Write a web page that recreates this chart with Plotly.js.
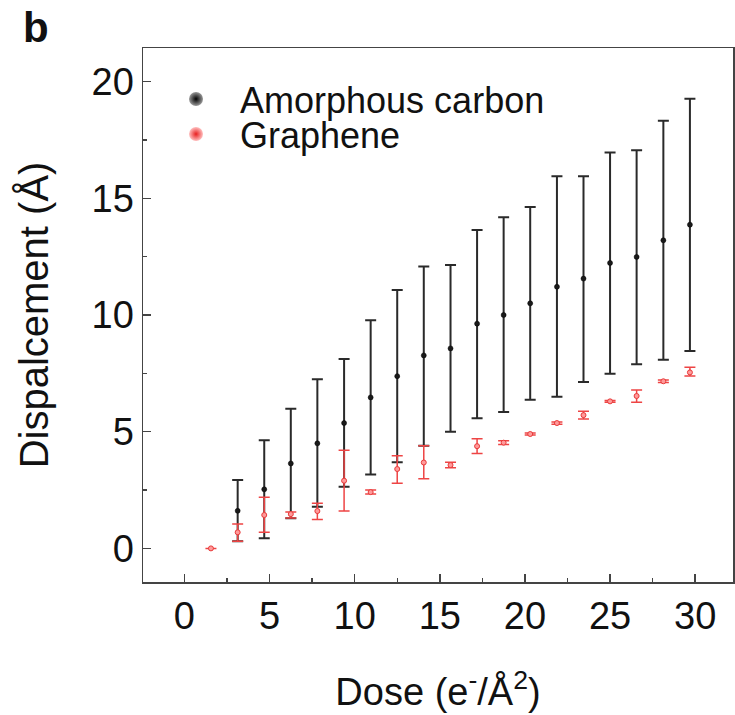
<!DOCTYPE html>
<html>
<head>
<meta charset="utf-8">
<script src="https://cdn.plot.ly/plotly-3.0.1.min.js"></script>
<style>
  html, body { margin: 0; padding: 0; background: #fff; }
  #chart { width: 735px; height: 715px; }
</style>
</head>
<body>
<div id="chart"></div>
<script>
// ---- data ----
// Amorphous carbon (black)
const carbonDose  = [3.13, 4.69, 6.25, 7.81, 9.38, 10.94, 12.5, 14.06, 15.63, 17.19, 18.75, 20.31, 21.88, 23.44, 25.0, 26.56, 28.13, 29.69];
const carbonMean  = [1.61, 2.53, 3.64, 4.50, 5.37, 6.47, 7.38, 8.27, 8.57, 9.63, 10.0, 10.5, 11.21, 11.56, 12.23, 12.49, 13.2, 13.87];
const carbonUpper = [2.93, 4.63, 5.98, 7.25, 8.11, 9.77, 11.07, 12.08, 12.14, 13.64, 14.19, 14.63, 15.94, 15.94, 16.96, 17.06, 18.32, 19.27];
const carbonLower = [0.31, 0.43, 1.29, 1.78, 2.64, 3.17, 3.69, 4.40, 5.0, 5.58, 5.84, 6.37, 6.5, 7.13, 7.48, 7.89, 8.08, 8.46];

// Graphene (red)
const grapheneDose  = [1.56, 3.13, 4.69, 6.25, 7.81, 9.38, 10.94, 12.5, 14.06, 15.63, 17.19, 18.75, 20.31, 21.88, 23.44, 25.0, 26.56, 28.13, 29.69];
const grapheneMean  = [0.0, 0.69, 1.43, 1.47, 1.60, 2.90, 2.41, 3.40, 3.68, 3.57, 4.38, 4.53, 4.90, 5.37, 5.71, 6.30, 6.53, 7.16, 7.54];
const grapheneUpper = [null, 1.04, 2.19, 1.56, 1.93, 4.20, 2.50, 3.97, 4.40, 3.69, 4.70, 4.61, 4.94, 5.42, 5.88, 6.34, 6.79, 7.21, 7.76];
const grapheneLower = [null, 0.31, 0.69, 1.30, 1.24, 1.60, 2.33, 2.79, 2.98, 3.46, 4.07, 4.45, 4.86, 5.32, 5.54, 6.26, 6.26, 7.11, 7.39];

const seriesNames = ['Amorphous carbon', 'Graphene'];
const xTickVals = [0, 5, 10, 15, 20, 25, 30];
const yTickVals = [0, 5, 10, 15, 20];

// ---- build ----
const up = (hi, m) => hi.map((h, i) => (h === null ? null : h - m[i]));
const dn = (lo, m) => lo.map((l, i) => (l === null ? null : m[i] - l));

const FONT = 'Liberation Sans, Arial, Helvetica, sans-serif';

const traces = [
  {
    type: 'scatter', mode: 'markers', showlegend: false,
    x: carbonDose, y: carbonMean,
    marker: { size: 5, color: '#1a1a1a', line: { color: '#000', width: 0.5 } },
    error_y: { type: 'data', symmetric: false,
      array: up(carbonUpper, carbonMean), arrayminus: dn(carbonLower, carbonMean),
      color: '#2a2a2a', thickness: 2, width: 5.5 }
  },
  {
    type: 'scatter', mode: 'markers', showlegend: false,
    x: grapheneDose, y: grapheneMean,
    marker: { size: 5, color: '#ff9a9a', line: { color: '#e83a3a', width: 1 } },
    error_y: { type: 'data', symmetric: false,
      array: up(grapheneUpper, grapheneMean), arrayminus: dn(grapheneLower, grapheneMean),
      color: '#ee4444', thickness: 1.5, width: 5.5 }
  },
  // legend entries
  {
    type: 'scatter', mode: 'markers', name: seriesNames[0], legend: 'legend',
    x: [null], y: [null],
    marker: { size: 14, color: '#9a9a9a', gradient: { type: 'radial', color: '#000' }, line: { width: 0 } }
  },
  {
    type: 'scatter', mode: 'markers', name: seriesNames[1], legend: 'legend2',
    x: [null], y: [null],
    marker: { size: 14, color: '#ffc0c0', gradient: { type: 'radial', color: '#e82020' }, line: { width: 0 } }
  }
];

const axisCommon = {
  showgrid: false, zeroline: false,
  showline: true, linecolor: '#444', linewidth: 1.5, mirror: true,
  ticks: 'inside', ticklen: 8, tickwidth: 1.5, tickcolor: '#444',
  tickfont: { family: FONT, size: 38, color: '#111' },
  minor: { ticks: 'inside', ticklen: 4, tickwidth: 1.2, tickcolor: '#444', showgrid: false }
};

const layout = {
  width: 735, height: 715,
  margin: { l: 143, r: 2, t: 48, b: 133, pad: 0 },
  paper_bgcolor: '#fff', plot_bgcolor: '#fff',
  font: { family: FONT, color: '#111' },
  xaxis: Object.assign({}, axisCommon, {
    range: [-2.43, 32.22],
    tickmode: 'array', tickvals: xTickVals, ticktext: xTickVals.map(String),
    minor: Object.assign({}, axisCommon.minor, { tickmode: 'linear', tick0: 2.5, dtick: 5 }),
    title: { text: 'Dose (e<sup>-</sup>/Å<sup>2</sup>)', font: { family: FONT, size: 38, color: '#111' }, standoff: 42 }
  }),
  yaxis: Object.assign({}, axisCommon, {
    range: [-1.44, 21.44],
    tickmode: 'array', tickvals: yTickVals, ticktext: yTickVals.map(String),
    minor: Object.assign({}, axisCommon.minor, { tickmode: 'linear', tick0: 2.5, dtick: 5 }),
    title: { text: 'Dispalcement (Å)', font: { family: FONT, size: 40, color: '#111' }, standoff: 30 }
  }),
  legend: {
    x: 0.0153, y: 0.9044, xanchor: 'left', yanchor: 'middle',
    bgcolor: 'rgba(0,0,0,0)', borderwidth: 0, itemwidth: 78,
    font: { family: FONT, size: 36, color: '#111' }
  },
  legend2: {
    x: 0.0153, y: 0.8387, xanchor: 'left', yanchor: 'middle',
    bgcolor: 'rgba(0,0,0,0)', borderwidth: 0, itemwidth: 78,
    font: { family: FONT, size: 36, color: '#111' }
  },
  annotations: [{
    text: '<b>b</b>', xref: 'paper', yref: 'paper',
    x: -0.207, y: 1.0393, xanchor: 'left', yanchor: 'middle',
    showarrow: false, font: { family: FONT, size: 42, color: '#111' }
  }]
};

Plotly.newPlot('chart', traces, layout, { staticPlot: true, displayModeBar: false });
</script>
</body>
</html>
